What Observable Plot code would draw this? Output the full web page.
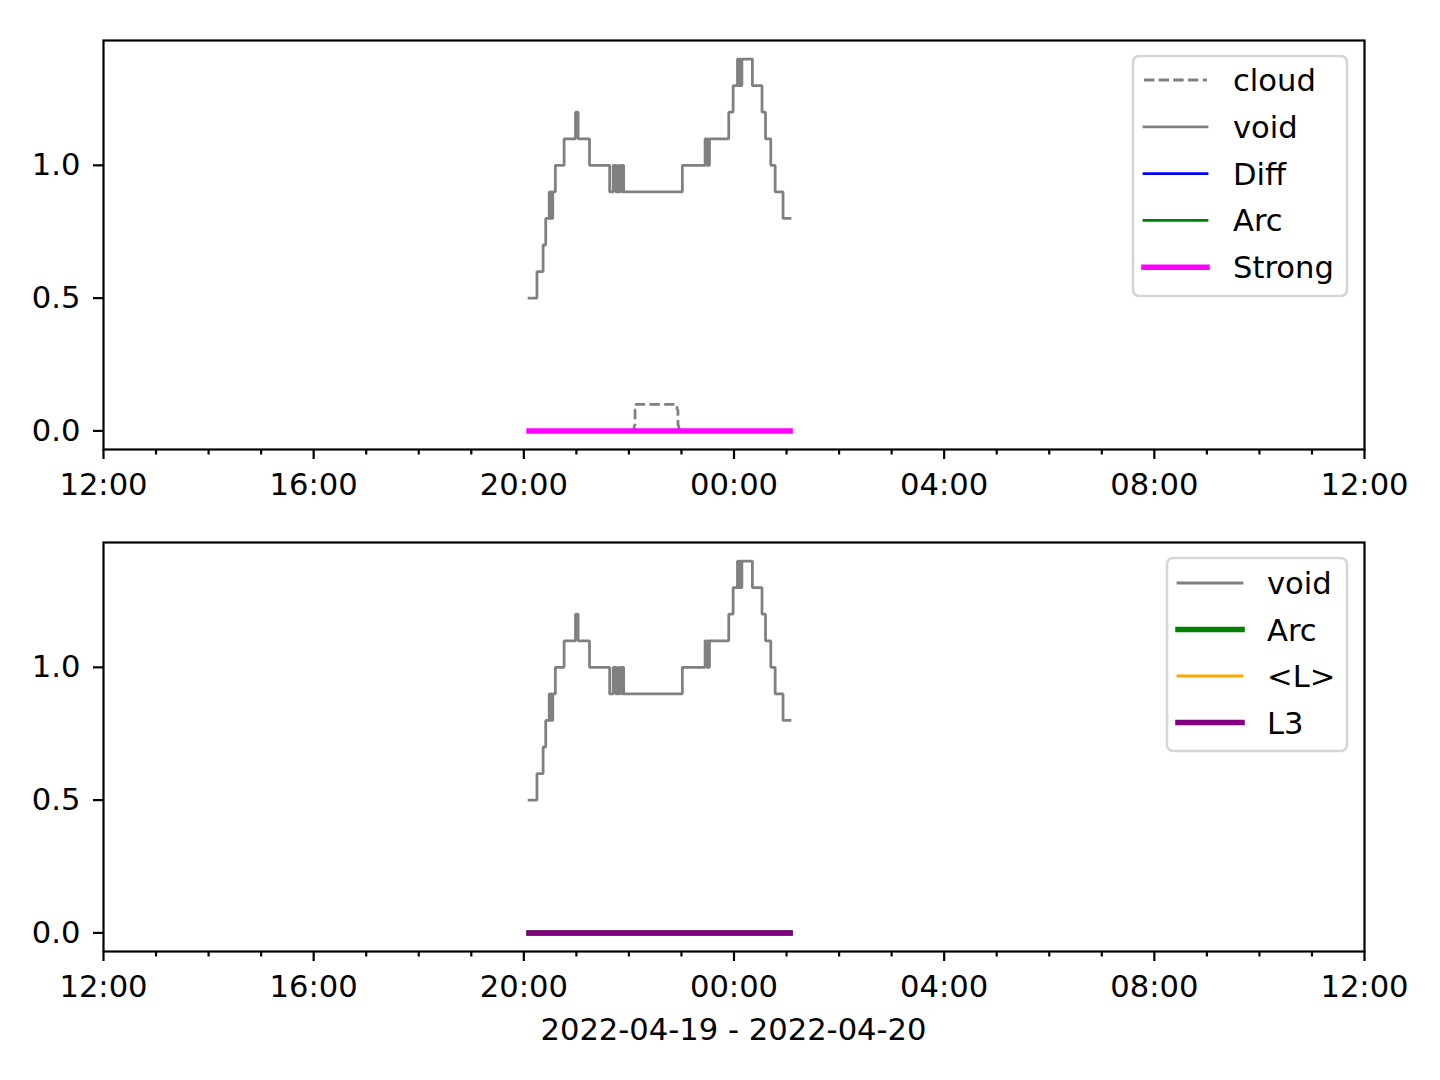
<!DOCTYPE html>
<html><head><meta charset="utf-8">
<script src="https://cdn.jsdelivr.net/npm/d3@7"></script>
<script src="https://cdn.jsdelivr.net/npm/@observablehq/plot@0.6"></script>
<style>
body{margin:0;background:#fff;font-family:"DejaVu Sans";}
#wrap{position:relative;width:1440px;height:1080px;background:#fff;overflow:hidden;}
.panel{position:absolute;left:0;}
.ov{position:absolute;left:0;top:0;}
#xlabel{position:absolute;left:0;width:1467px;top:1012px;text-align:center;font-size:30.6px;line-height:36px;color:#000;}
</style>
</head><body>
<div id="wrap">
  <div id="p1" class="panel" style="top:0"></div>
  <div id="p2" class="panel" style="top:502px"></div>
  <div id="xlabel">2022-04-19 - 2022-04-20</div>
</div>
<script>
// ---- data ----
const voidTimes = ["20:06","20:15","20:22","20:25","20:29","20:30","20:31","20:32","20:33","20:36","20:46","20:59","21:02","21:15","21:38","21:42","21:45","21:47","21:48","21:50","21:52","21:53","21:54","23:01","23:27","23:29","23:30","23:31","23:32","23:54","23:59","00:04","00:06","00:07","00:08","00:09","00:21","00:32","00:36","00:42","00:47","00:56","01:04"];
const voidValues = [0.5,0.6,0.7,0.8,0.9,0.8,0.9,0.8,0.9,1.0,1.1,1.2,1.1,1.0,0.9,1.0,0.9,1.0,0.9,1.0,0.9,1.0,0.9,1.0,1.1,1.0,1.1,1.0,1.1,1.2,1.3,1.4,1.3,1.4,1.3,1.4,1.3,1.2,1.1,1.0,0.9,0.8,0.8];
const cloudTimes = ["20:06","22:06","22:07","22:08","22:55","22:56","22:57","01:04"];
const cloudValues = [0,0.02,0.08,0.1,0.08,0.02,0,0];
const flatTimes = ["20:06","01:04"];
const diffValues = [0,0];
const arcValues = [0,0];
const strongValues = [0,0];
const meanLValues = [0,0];
const l3Values = [0,0];
const majorTickLabels = ["12:00","16:00","20:00","00:00","04:00","08:00","12:00"];
const yTicks = [0,0.5,1.0];

// ---- helpers ----
const parseT = (s) => {
  const [h,m] = s.split(":").map(Number);
  const day = h >= 12 ? 19 : 20;
  return new Date(Date.UTC(2022,3,day,h,m));
};
const series = (times, values) => times.map((t,i)=>({t: parseT(t), v: values[i]}));
const x0 = new Date(Date.UTC(2022,3,19,12,0));
const x1 = new Date(Date.UTC(2022,3,20,12,0));
const majors = majorTickLabels.map((s,i)=> i===majorTickLabels.length-1 ? x1 : parseT(s));
const minors = d3.utcHour.range(x0, new Date(+x1+1)).filter(d => d.getUTCHours() % 4 !== 0);

const FS = 30.6;
function panel(lines) {
  return Plot.plot({
    width:1440, height:502,
    marginLeft:103, marginRight:76, marginTop:40, marginBottom:53,
    style:{fontFamily:"DejaVu Sans", fontSize:FS+"px", background:"white", color:"black", overflow:"visible"},
    x:{type:"utc", domain:[x0,x1]},
    y:{domain:[-0.07,1.47]},
    marks:[
      ...lines.map(s=>Plot.line(s.data,{x:"t",y:"v",curve:"step-after",stroke:s.color,strokeWidth:s.w,
        strokeDasharray:s.dash, strokeLinecap:s.dash? "butt":"square", strokeLinejoin:"miter"})),
      Plot.frame({stroke:"black", strokeWidth:2.2}),
      Plot.axisX(majors,{tickSize:10, tickPadding:14, tickFormat:d3.utcFormat("%H:%M"), label:null, strokeWidth:2.2, fontSize:FS}),
      Plot.axisX(minors,{tickSize:5.5, text:null, label:null, strokeWidth:2.2}),
      Plot.axisY(yTicks,{tickSize:10, tickPadding:13, tickFormat:d3.format(".1f"), label:null, strokeWidth:2.2, fontSize:FS})
    ]
  });
}

const gray="#808080", blue="#0000ff", green="#008000", magenta="#ff00ff", orange="#ffa500", purple="#800080";
const topLines = [
  {name:"cloud", data:series(cloudTimes,cloudValues), color:gray, w:2.78, dash:"10.3,4.4"},
  {name:"void", data:series(voidTimes,voidValues), color:gray, w:2.78},
  {name:"Diff", data:series(flatTimes,diffValues), color:blue, w:2.78},
  {name:"Arc", data:series(flatTimes,arcValues), color:green, w:2.78},
  {name:"Strong", data:series(flatTimes,strongValues), color:magenta, w:5.56}
];
const bottomLines = [
  {name:"void", data:series(voidTimes,voidValues), color:gray, w:2.78},
  {name:"Arc", data:series(flatTimes,arcValues), color:green, w:5.56},
  {name:"<L>", data:series(flatTimes,meanLValues), color:orange, w:2.78},
  {name:"L3", data:series(flatTimes,l3Values), color:purple, w:5.56}
];
document.getElementById("p1").append(panel(topLines));
document.getElementById("p2").append(panel(bottomLines));

// ---- legends ----
function legend(items, box, hx1, hx2, tx, y0, step) {
  const svg = d3.select("#wrap").append("svg").attr("class","ov").attr("width",1440).attr("height",1080);
  svg.append("rect").attr("x",box[0]).attr("y",box[1]).attr("width",box[2]).attr("height",box[3])
    .attr("rx",6).attr("fill","rgba(255,255,255,0.8)").attr("stroke","#d6d6d6").attr("stroke-width",2.6);
  items.forEach((s,i)=>{
    const y = y0 + i*step;
    svg.append("line").attr("x1",hx1).attr("x2",hx2).attr("y1",y).attr("y2",y)
      .attr("stroke",s.color).attr("stroke-width",s.w)
      .attr("stroke-dasharray",s.dash||null).attr("stroke-linecap",s.dash?"butt":"square");
    svg.append("text").attr("x",tx).attr("y",y).attr("dy","0.36em").attr("font-size",FS)
      .attr("font-family","DejaVu Sans").attr("fill","#000").text(s.name);
  });
}
legend(topLines, [1133,56,214,240], 1144, 1207, 1233, 80, 46.8);
legend(bottomLines, [1167,558,180,193], 1178, 1242, 1267, 583, 46.5);
</script>
</body></html>
